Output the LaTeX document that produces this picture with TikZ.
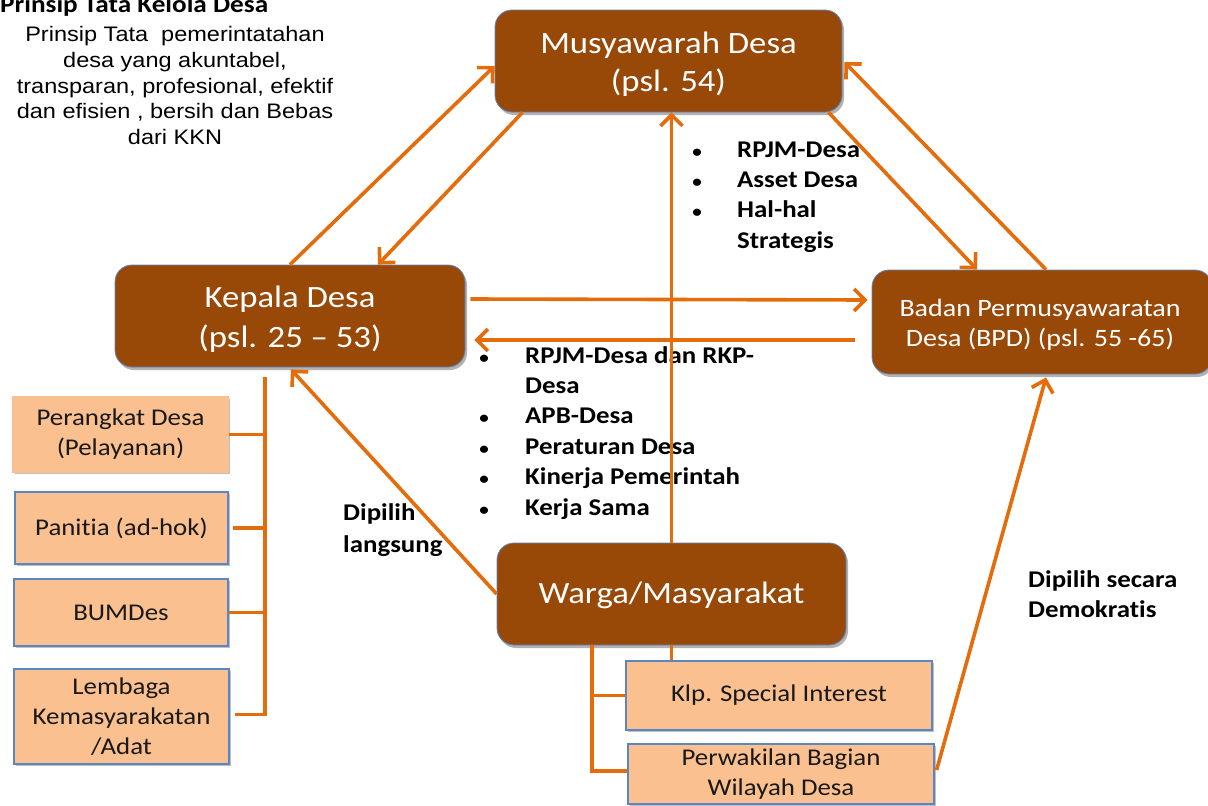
\documentclass[tikz,border=0pt]{standalone}
\usepackage{fontspec}
\setmainfont{Carlito}[FakeStretch=1.12, Ligatures={NoCommon,NoContextual,NoRare}, Contextuals={NoAlternate}]
\newfontfamily\arialf{Liberation Sans}[FakeStretch=1.12]
\usetikzlibrary{arrows.meta,shadows,calc}
\definecolor{brownf}{HTML}{984807}
\definecolor{orangel}{HTML}{E46C0A}
\definecolor{peach}{HTML}{FAC090}
\definecolor{boxblue}{HTML}{5B86C3}
\begin{document}
\begin{tikzpicture}[x=1pt,y=-1pt,
  bigbox/.style={draw=boxblue, line width=0.8pt, fill=brownf, rounded corners=17pt,
    text=white, align=center, inner sep=0pt,
    drop shadow={shadow xshift=2pt, shadow yshift=-3pt, opacity=0.3, fill=black}},
  smallbox/.style={draw=boxblue, line width=1.2pt, fill=peach, align=center, inner sep=0pt,
    text=black!90, font=\fontsize{24}{30}\selectfont,
    drop shadow={shadow xshift=2pt, shadow yshift=-2pt, opacity=0.25, fill=black}},
  conn/.style={draw=orangel, line width=3.6pt},
  arr/.style={conn, -{Straight Barb[length=11pt,width=22pt]}},
  bul/.style={anchor=base, inner sep=0pt, font=\bfseries\fontsize{17}{30}\selectfont},
  btxt/.style={anchor=base west, inner sep=0pt, font=\bfseries\fontsize{24}{30}\selectfont},
]
\useasboundingbox (0,0) rectangle (1208,806);
\fill[white] (0,0) rectangle (1208,806);

% main boxes
\node[bigbox, minimum width=347pt, minimum height=102pt, font=\fontsize{31}{38}\selectfont] (mus) at (668.5,61) {\rule{0pt}{28pt}Musyawarah Desa\\(psl. 54)};
\node[bigbox, minimum width=350pt, minimum height=102pt, font=\fontsize{31}{40}\selectfont] (kep) at (290,316) {\rule{0pt}{27pt}Kepala Desa\\(psl. 25 -- 53)};
\node[bigbox, minimum width=340pt, minimum height=104pt, font=\fontsize{25}{30}\selectfont] (bpd) at (1042,322) {\hspace*{-4pt}\rule{0pt}{23pt}Badan Permusyawaratan\\\hspace*{-4pt}Desa (BPD) (psl. 55 -65)};
\node[bigbox, minimum width=349pt, minimum height=102pt, font=\fontsize{31}{38}\selectfont] (war) at (671.5,594) {\rule{0pt}{25pt}Warga/Masyarakat};

% small boxes
\node[smallbox, draw=peach, minimum width=215pt, minimum height=75pt] (pd) at (120.5,434.5) {Perangkat Desa\\(Pelayanan)};
\node[smallbox, minimum width=213pt, minimum height=72pt] (pan) at (121.5,528) {Panitia (ad-hok)};
\node[smallbox, minimum width=214pt, minimum height=67pt] (bum) at (121,612.5) {BUMDes};
\node[smallbox, minimum width=215pt, minimum height=95pt] (lem) at (121.5,716.5) {Lembaga\\Kemasyarakatan\\/Adat};
\node[smallbox, minimum width=306pt, minimum height=69pt] (klp) at (779,695.5) {Klp. Special Interest};
\node[smallbox, minimum width=306pt, minimum height=60pt] (per) at (781,774) {Perwakilan Bagian\\Wilayah Desa};

% texts
\node[anchor=base west, inner sep=0pt, font=\bfseries\fontsize{24.3}{28}\selectfont] (title) at (0,12) {Prinsip Tata Kelola Desa};
\node[anchor=north, align=center, inner sep=0pt, font=\arialf\fontsize{21}{25.6}\selectfont] (prin) at (175,26.5)
  {Prinsip Tata \ pemerintatahan\\desa yang akuntabel,\\transparan, profesional, efektif\\dan efisien , bersih dan Bebas\\dari KKN};

\node[bul] (b1) at (697,157) {•};
\node[btxt] (t1) at (737,157) {RPJM-Desa};
\node[bul] (b2) at (697,187) {•};
\node[btxt] (t2) at (737,187) {Asset Desa};
\node[bul] (b3) at (697,217) {•};
\node[btxt] (t3) at (737,217) {Hal-hal};
\node[btxt] (t4) at (737,248) {Strategis};

\node[bul] (c1) at (484,363) {•};
\node[btxt] (u1) at (525,363) {RPJM-Desa dan RKP-};
\node[btxt] (u2) at (525,393) {Desa};
\node[bul] (c3) at (484,423) {•};
\node[btxt] (u3) at (525,423) {APB-Desa};
\node[bul] (c4) at (484,454) {•};
\node[btxt] (u4) at (525,454) {Peraturan Desa};
\node[bul] (c5) at (484,484) {•};
\node[btxt] (u5) at (525,484) {Kinerja Pemerintah};
\node[bul] (c6) at (484,515) {•};
\node[btxt] (u6) at (525,515) {Kerja Sama};

\node[btxt] (dl1) at (343,520) {Dipilih};
\node[btxt] (dl2) at (343,552) {langsung};
\node[btxt] (dd1) at (1028,587) {Dipilih secara};
\node[btxt] (dd2) at (1028,617) {Demokratis};

% arrows
\draw[arr] (kep.north) -- ([yshift=-5pt]mus.west);
\draw[arr] ([xshift=-146pt]mus.south) -- ([xshift=88pt]kep.north);
\draw[arr] (war.north) -- (war.north |- mus.south);
\draw[arr] ([xshift=160pt]mus.south) -- ([xshift=-65pt]bpd.north);
\draw[arr] ([xshift=4pt]bpd.north) -- ([xshift=2pt,yshift=-1pt]mus.east);
\draw[arr] ([xshift=5pt,yshift=17pt]kep.east) -- ([xshift=-4pt,yshift=22pt]bpd.west);
\draw[arr] ([xshift=-17pt,yshift=-18pt]bpd.west) -- ([xshift=9pt,yshift=-24pt]kep.east);
\draw[arr] (war.west) -- ([xshift=1pt,yshift=-2pt]kep.south);
\draw[arr] ([xshift=2pt,yshift=4pt]per.east) -- ([xshift=4pt,yshift=-3pt]bpd.south);

% brackets
\coordinate (lb) at (265,377);
\draw[conn] (lb) |- ([xshift=5pt,yshift=2pt]lem.east);
\draw[conn] (pd.east) -- (pd.east -| lb);
\draw[conn] ([xshift=4pt]pan.east) -- (pan.east -| lb);
\draw[conn] (bum.east) -- (bum.east -| lb);

\coordinate (wb) at ([xshift=-79.5pt]war.south);
\draw[conn] (wb) |- ([yshift=3pt]per.west);
\draw[conn] (klp.west -| wb) -- (klp.west);
\draw[conn] (war.south) -- (war.south |- klp.north);
\end{tikzpicture}
\end{document}
